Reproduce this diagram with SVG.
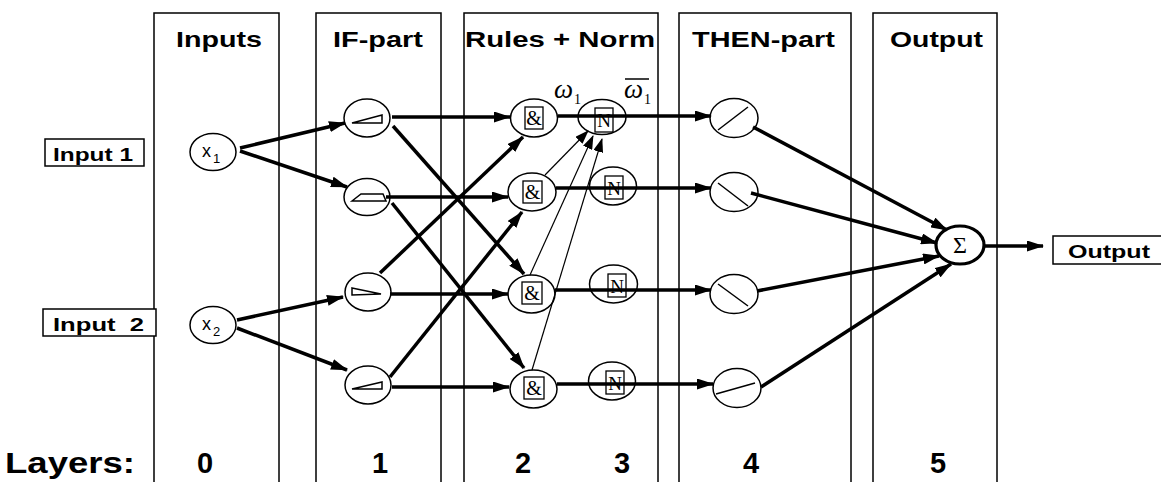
<svg xmlns="http://www.w3.org/2000/svg" width="1161" height="482" viewBox="0 0 1161 482">
<style>
.col{fill:none;stroke:#000;stroke-width:1.5}
.hdr{font-family:"Liberation Sans",Arial,sans-serif;font-weight:bold;font-size:22px;fill:#000}
.lay{font-family:"Liberation Sans",Arial,sans-serif;font-weight:bold;font-size:29px;fill:#000}
.lbl{font-family:"Liberation Sans",Arial,sans-serif;font-weight:bold;font-size:18px;fill:#000}
.lbox{fill:#fff;stroke:#000;stroke-width:1.5}
.node{fill:none;stroke:#000;stroke-width:1.5}
.ibox{fill:none;stroke:#000;stroke-width:1.3}
.icon{fill:none;stroke:#000;stroke-width:1.5}
.ser{font-family:"Liberation Serif","Times New Roman",serif;fill:#000}
.sans{font-family:"Liberation Sans",Arial,sans-serif;fill:#000}
.thick{fill:none;stroke:#000;stroke-width:3.5;marker-end:url(#ah)}
.thin{fill:none;stroke:#000;stroke-width:1.2;marker-end:url(#ahs)}
</style>
<defs>
<marker id="ah" markerUnits="userSpaceOnUse" markerWidth="17" markerHeight="11" refX="16" refY="5.5" orient="auto"><path d="M0,0 L17,5.5 L0,11 z" fill="#000"/></marker>
<marker id="ahs" markerUnits="userSpaceOnUse" markerWidth="14" markerHeight="10" refX="13" refY="5" orient="auto"><path d="M0,0 L14,5 L0,10 z" fill="#000"/></marker>
</defs>
<rect width="1161" height="482" fill="#fff"/>

<g id="columns">
<rect class="col" x="154" y="13" width="125" height="500"/>
<rect class="col" x="316" y="13" width="125" height="500"/>
<rect class="col" x="464" y="13" width="194" height="500"/>
<rect class="col" x="679" y="13" width="172" height="500"/>
<rect class="col" x="873" y="13" width="124" height="500"/>
<text class="hdr" x="176" y="47" textLength="86" lengthAdjust="spacingAndGlyphs">Inputs</text>
<text class="hdr" x="333" y="47" textLength="90" lengthAdjust="spacingAndGlyphs">IF-part</text>
<text class="hdr" x="465" y="47" textLength="190" lengthAdjust="spacingAndGlyphs">Rules + Norm</text>
<text class="hdr" x="692" y="47" textLength="143" lengthAdjust="spacingAndGlyphs">THEN-part</text>
<text class="hdr" x="890" y="47" textLength="93" lengthAdjust="spacingAndGlyphs">Output</text>
</g>

<g id="layers">
<text class="lay" x="5" y="473" textLength="130" lengthAdjust="spacingAndGlyphs">Layers:</text>
<text class="lay" x="205" y="473" text-anchor="middle">0</text>
<text class="lay" x="380" y="473" text-anchor="middle">1</text>
<text class="lay" x="523" y="473" text-anchor="middle">2</text>
<text class="lay" x="622" y="473" text-anchor="middle">3</text>
<text class="lay" x="751" y="473" text-anchor="middle">4</text>
<text class="lay" x="938" y="473" text-anchor="middle">5</text>
</g>

<g id="connectors">
<line class="thick" x1="240" y1="148" x2="345" y2="123"/>
<line class="thick" x1="240" y1="151" x2="347" y2="187"/>
<line class="thick" x1="237" y1="320" x2="343" y2="297"/>
<line class="thick" x1="237" y1="328" x2="347" y2="370"/>
<line class="thick" x1="392" y1="117" x2="510" y2="117"/>
<line class="thick" x1="393" y1="126" x2="524" y2="274"/>
<line class="thick" x1="386" y1="197" x2="508" y2="197"/>
<line class="thick" x1="392" y1="203" x2="524" y2="368"/>
<line class="thick" x1="380" y1="273" x2="523" y2="137"/>
<line class="thick" x1="390" y1="294" x2="508" y2="294"/>
<line class="thick" x1="390" y1="377" x2="522" y2="212"/>
<line class="thick" x1="392" y1="387" x2="509" y2="387"/>
<line class="thick" x1="558" y1="116" x2="711" y2="116"/>
<line class="thick" x1="556" y1="188" x2="711" y2="188"/>
<line class="thick" x1="555" y1="290" x2="711" y2="290"/>
<line class="thick" x1="557" y1="384" x2="713" y2="384"/>
<line class="thin" x1="545" y1="175" x2="588" y2="131"/>
<line class="thin" x1="530" y1="275" x2="593" y2="136"/>
<line class="thin" x1="532" y1="370" x2="602" y2="139"/>
<line class="thick" x1="753" y1="127" x2="947" y2="230"/>
<line class="thick" x1="751" y1="193" x2="937" y2="243"/>
<line class="thick" x1="757" y1="291" x2="939" y2="256"/>
<line class="thick" x1="761" y1="387" x2="951" y2="264"/>
<line class="thick" x1="985" y1="246" x2="1043" y2="246"/>
</g>

<g id="input1">
<rect class="lbox" x="45" y="139" width="99" height="27"/>
<text class="lbl" x="53" y="161" font-size="19" textLength="80" lengthAdjust="spacingAndGlyphs">Input 1</text>
</g>
<g id="input2">
<rect class="lbox" x="43" y="309" width="113" height="27"/>
<text class="lbl" x="53" y="331" font-size="19" textLength="91" lengthAdjust="spacingAndGlyphs" xml:space="preserve">Input  2</text>
</g>
<g id="output">
<rect class="lbox" x="1053" y="236" width="112" height="28"/>
<text class="lbl" x="1068" y="258" font-size="20" textLength="82" lengthAdjust="spacingAndGlyphs">Output</text>
</g>

<g id="x1">
<ellipse class="node" cx="213" cy="152" rx="23" ry="18.5"/>
<text class="sans" x="202" y="157" font-size="18">x</text>
<text class="sans" x="213" y="163" font-size="13">1</text>
</g>
<g id="x2">
<ellipse class="node" cx="213" cy="325" rx="23" ry="18.5"/>
<text class="sans" x="202" y="330" font-size="18">x</text>
<text class="sans" x="213" y="336" font-size="13">2</text>
</g>

<g id="if1">
<ellipse class="node" cx="367" cy="118" rx="23" ry="19"/>
<polygon class="icon" points="352,123 382,123 382,115"/>
</g>
<g id="if2">
<ellipse class="node" cx="367" cy="197" rx="23" ry="18.5"/>
<polygon class="icon" points="352,201 361,194 383,194 386,201"/>
</g>
<g id="if3">
<ellipse class="node" cx="368" cy="292" rx="23" ry="19"/>
<polygon class="icon" points="352,288 381,294 352,295"/>
</g>
<g id="if4">
<ellipse class="node" cx="368" cy="385" rx="23" ry="19"/>
<polygon class="icon" points="352,389 382,389 382,382"/>
</g>

<g id="and1">
<ellipse class="node" cx="534" cy="118" rx="23.5" ry="19"/>
<rect class="ibox" x="525" y="107" width="18" height="22"/>
<text class="ser" x="534" y="125" font-size="20" text-anchor="middle">&amp;</text>
</g>
<g id="and2">
<ellipse class="node" cx="532" cy="192" rx="24" ry="19"/>
<rect class="ibox" x="523" y="181" width="19" height="22"/>
<text class="ser" x="532.5" y="199" font-size="20" text-anchor="middle">&amp;</text>
</g>
<g id="and3">
<ellipse class="node" cx="531.5" cy="294" rx="23.5" ry="19"/>
<rect class="ibox" x="522" y="282" width="20" height="22"/>
<text class="ser" x="532" y="300" font-size="20" text-anchor="middle">&amp;</text>
</g>
<g id="and4">
<ellipse class="node" cx="533.5" cy="389" rx="23.5" ry="19"/>
<rect class="ibox" x="524" y="377" width="20" height="22"/>
<text class="ser" x="534" y="395" font-size="20" text-anchor="middle">&amp;</text>
</g>

<g id="norm1">
<ellipse class="node" cx="602" cy="117" rx="24" ry="17.5"/>
<rect class="ibox" x="595" y="108" width="18" height="24"/>
<text class="ser" x="604" y="127" font-size="19" text-anchor="middle">N</text>
</g>
<g id="norm2">
<ellipse class="node" cx="613" cy="186" rx="23.5" ry="19"/>
<rect class="ibox" x="605" y="176" width="18" height="23"/>
<text class="ser" x="614" y="195" font-size="19" text-anchor="middle">N</text>
</g>
<g id="norm3">
<ellipse class="node" cx="613.5" cy="284" rx="24" ry="19"/>
<rect class="ibox" x="608" y="274" width="18" height="23"/>
<text class="ser" x="617" y="293" font-size="19" text-anchor="middle">N</text>
</g>
<g id="norm4">
<ellipse class="node" cx="612" cy="381" rx="23.5" ry="19"/>
<rect class="ibox" x="606" y="371" width="18" height="23"/>
<text class="ser" x="615" y="390" font-size="19" text-anchor="middle">N</text>
</g>

<g id="weights">
<text class="ser" x="554" y="98" font-size="27" font-style="italic">ω</text>
<text class="ser" x="574" y="104" font-size="14">1</text>
<text class="ser" x="624" y="98" font-size="27" font-style="italic">ω</text>
<text class="ser" x="644" y="104" font-size="14">1</text>
<line x1="625" y1="79" x2="649" y2="79" stroke="#000" stroke-width="1.5"/>
</g>

<g id="then1">
<ellipse class="node" cx="734" cy="118" rx="24" ry="19.5"/>
<line class="icon" x1="718" y1="130" x2="748" y2="107"/>
</g>
<g id="then2">
<ellipse class="node" cx="734" cy="192" rx="24" ry="19.5"/>
<line class="icon" x1="718" y1="183" x2="748" y2="206"/>
</g>
<g id="then3">
<ellipse class="node" cx="734" cy="294" rx="24" ry="19.5"/>
<line class="icon" x1="718" y1="284" x2="748" y2="306"/>
</g>
<g id="then4">
<ellipse class="node" cx="737" cy="388" rx="24" ry="19.5"/>
<line class="icon" x1="716" y1="394" x2="755" y2="383"/>
</g>

<g id="sum">
<ellipse cx="960" cy="245" rx="24" ry="19" fill="none" stroke="#000" stroke-width="3.2"/>
<text class="ser" x="960" y="253" font-size="24" text-anchor="middle">Σ</text>
</g>
</svg>
